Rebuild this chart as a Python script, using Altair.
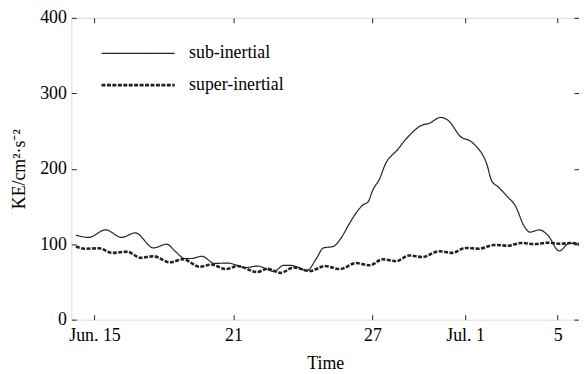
import altair as alt
import pandas as pd

# days after Jun. 14 00:00
sub_day = [0.2, 0.74, 1.48, 2.17, 2.76, 3.55, 4.12, 4.47, 4.9, 5.18, 5.64, 6.18, 6.75, 7.53, 8.03,
           8.75, 9.17, 9.46, 9.74, 10.17, 10.6, 10.88, 11.31, 11.6, 12.02, 12.31, 12.59, 12.81, 13.02,
           13.3, 13.59, 13.88, 14.02, 14.44, 15.16, 15.44, 15.94, 16.23, 16.87, 17.15, 17.44, 17.94,
           18.15, 18.43, 18.86, 19.15, 19.57, 19.79, 20.21, 20.57, 21.07, 21.5, 22.0]
sub_ke = [112, 109, 119, 109, 115, 95, 100, 91, 81, 81, 84, 74.5, 75, 69, 71,
          64, 72, 72, 70, 65, 82, 95, 97, 106, 128, 142, 152, 156, 172,
          186, 208, 219, 223, 239, 258, 260, 268, 265, 241, 238, 231, 206,
          184, 176, 162, 152, 123, 116, 119, 112, 91, 101, 100]

sup_day = [0.2, 0.56, 1.2, 1.76, 2.41, 2.98, 3.55, 4.26, 4.83, 5.54, 6.04, 6.68, 7.18, 8.03, 8.46,
           9.03, 9.6, 10.31, 10.95, 11.59, 12.31, 12.88, 13.45, 14.02, 14.59, 15.16, 15.87, 16.45,
           17.01, 17.58, 18.29, 18.86, 19.44, 20.0, 20.57, 21.14, 21.57, 22.0]
sup_ke = [97, 94, 94.5, 88.5, 90, 82, 84, 76, 80, 70, 73, 67, 71, 63, 67.6,
          62, 69, 64.5, 71, 67, 75, 72, 80, 77.5, 85, 83, 90.6, 88.5,
          95, 94, 99, 98, 101.6, 100, 102, 100.6, 101.6, 100]

series_names = ["sub-inertial", "super-inertial"]
tick_days = [1, 7, 13, 17, 21]
tick_labels = ["Jun. 15", "21", "27", "Jul. 1", "5"]
y_ticks = [0, 100, 200, 300, 400]

df = pd.concat([
    pd.DataFrame({"day": sub_day, "ke": sub_ke, "series": series_names[0]}),
    pd.DataFrame({"day": sup_day, "ke": sup_ke, "series": series_names[1]}),
])

FONT = "Liberation Serif"
INK = "#222222"
FS = 18

label_expr = " : ".join(
    f"datum.value == {d} ? '{l}'" for d, l in zip(tick_days, tick_labels)
) + " : ''"

xdom = [0, 21.92]
xscale = alt.Scale(domain=xdom, nice=False, zero=False)
yscale = alt.Scale(domain=[0, 400], nice=False)

base_axis = dict(domain=False, tickColor=INK, tickSize=5, offset=-5, grid=False,
                 labelFont=FONT, labelFontSize=FS, labelColor="black")
title_style = dict(titleFont=FONT, titleFontSize=FS, titleColor="black", titleFontWeight="normal")

legend = alt.Legend(title=None, orient="none", legendX=29, legendY=27,
                    symbolType="stroke", symbolSize=5476,
                    symbolStrokeColor=INK, clipHeight=18, rowPadding=14,
                    labelFont=FONT, labelFontSize=FS, labelColor="black",
                    labelOffset=13)

lines = alt.Chart(df).mark_line(interpolate="monotone", color=INK, clip=True).encode(
    x=alt.X("day:Q", scale=xscale,
            axis=alt.Axis(orient="bottom", values=tick_days, labelExpr=label_expr,
                          title="Time", labelPadding=7, titlePadding=10, **base_axis, **title_style)),
    y=alt.Y("ke:Q", scale=yscale,
            axis=alt.Axis(orient="left", values=y_ticks, title="KE/cm²·s⁻²",
                          labelPadding=5, titlePadding=11, **base_axis, **title_style)),
    strokeDash=alt.StrokeDash("series:N", scale=alt.Scale(domain=series_names, range=[[1, 0], [4, 1.5]]),
                              legend=legend),
    strokeWidth=alt.StrokeWidth("series:N", scale=alt.Scale(domain=series_names, range=[1.2, 2.6]),
                                legend=legend),
)

mirror = alt.Chart(df).mark_point(opacity=0).encode(
    x=alt.X("day:Q", scale=xscale,
            axis=alt.Axis(orient="top", values=tick_days, labels=False, title=None, **base_axis)),
    y=alt.Y("ke:Q", scale=yscale,
            axis=alt.Axis(orient="right", values=y_ticks, labels=False, title=None, **base_axis)),
)

chart = alt.layer(lines, mirror).resolve_axis(x="independent", y="independent").properties(
    width=513, height=305,
    autosize=alt.AutoSizeParams(type="none"),
    padding={"left": 64, "top": 8, "right": 0, "bottom": 52},
).configure_view(stroke=INK, strokeWidth=1).configure(background="white")

chart.save("out.html", embed_options={"renderer": "svg", "actions": False})
